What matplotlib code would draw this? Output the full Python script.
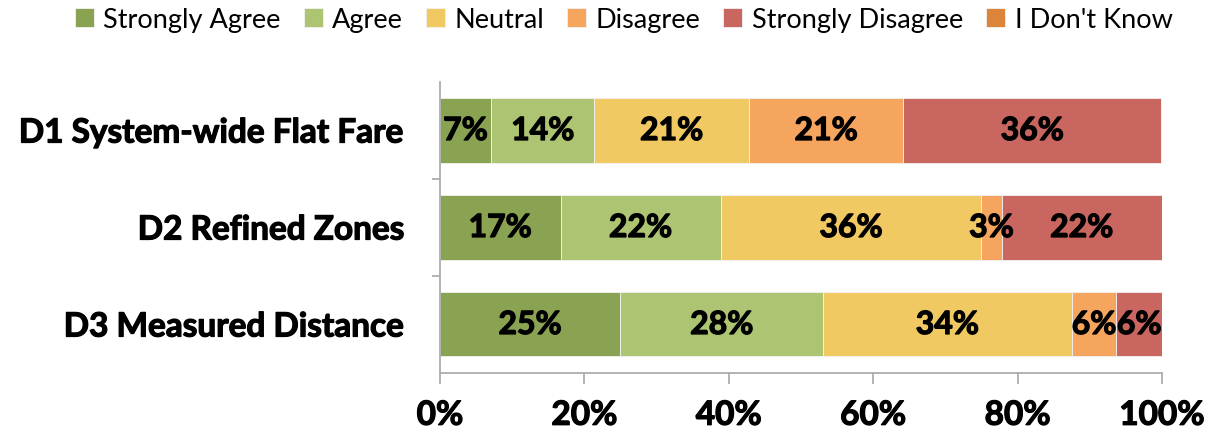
import matplotlib.pyplot as plt
import matplotlib.patheffects as pe
import numpy as np

# Data
categories = ['D1 System-wide Flat Fare', 'D2 Refined Zones', 'D3 Measured Distance']
responses = ['Strongly Agree', 'Agree', 'Neutral', 'Disagree', 'Strongly Disagree', "I Don't Know"]
strongly_agree = [7.1, 16.7, 25.0]
agree = [14.3, 22.2, 28.1]
neutral = [21.4, 36.1, 34.4]
disagree = [21.4, 2.8, 6.2]
strongly_disagree = [35.7, 22.2, 6.3]
dont_know = [0, 0, 0]
colors = ['#8aa353', '#adc472', '#f0c962', '#f5a55e', '#c9665f', '#dc8439']

series = [strongly_agree, agree, neutral, disagree, strongly_disagree, dont_know]

plt.rcParams['font.family'] = ['Lato', 'DejaVu Sans']
heavy = [pe.withStroke(linewidth=0.9, foreground='black')]

fig = plt.figure(figsize=(12.11, 4.31), dpi=100)
ax = fig.add_axes([0.3633, 0.1323, 0.5962, 0.6751])

y = np.arange(len(categories))[::-1]
left = np.zeros(len(categories))
for name, vals, col in zip(responses, series, colors):
    vals = np.array(vals, dtype=float)
    bars = ax.barh(y, vals, left=left, height=0.66, color=col, label=name,
                   edgecolor='#f2f2f2', linewidth=0.6)
    for b, v in zip(bars, vals):
        if v > 0:
            ax.text(b.get_x() + b.get_width() / 2, b.get_y() + b.get_height() / 2,
                    f'{v:.0f}%', ha='center', va='center',
                    fontsize=23, fontweight='bold', color='black', path_effects=heavy)
    left += vals

ax.set_xlim(0, 100)
ax.set_ylim(-0.5, len(categories) - 0.5)
ax.set_xticks(np.arange(0, 101, 20))
ax.set_xticklabels([f'{t}%' for t in range(0, 101, 20)], fontsize=24, fontweight='bold')
ax.set_yticks(y)
ax.set_yticklabels(categories, fontsize=24, fontweight='bold')
ax.set_yticks([0.5, 1.5], minor=True)
for lbl in ax.get_xticklabels() + ax.get_yticklabels():
    lbl.set_path_effects(heavy)

for s in ['top', 'right']:
    ax.spines[s].set_visible(False)
for s in ['left', 'bottom']:
    ax.spines[s].set_color('#a6a6a6')
    ax.spines[s].set_linewidth(1.2)

ax.tick_params(axis='y', which='major', length=0, pad=26)
ax.tick_params(axis='y', which='minor', length=6, color='#a6a6a6', width=1.2, direction='out')
ax.tick_params(axis='x', length=8, color='#a6a6a6', width=1.2, direction='out', pad=12)

fig.legend(loc='center', bbox_to_anchor=(0.515, 0.952), ncol=6, frameon=False,
           fontsize=19.5, handlelength=0.7, handleheight=0.7, handletextpad=0.35,
           columnspacing=0.85)

plt.savefig('out.png', dpi=100)
plt.close(fig)
